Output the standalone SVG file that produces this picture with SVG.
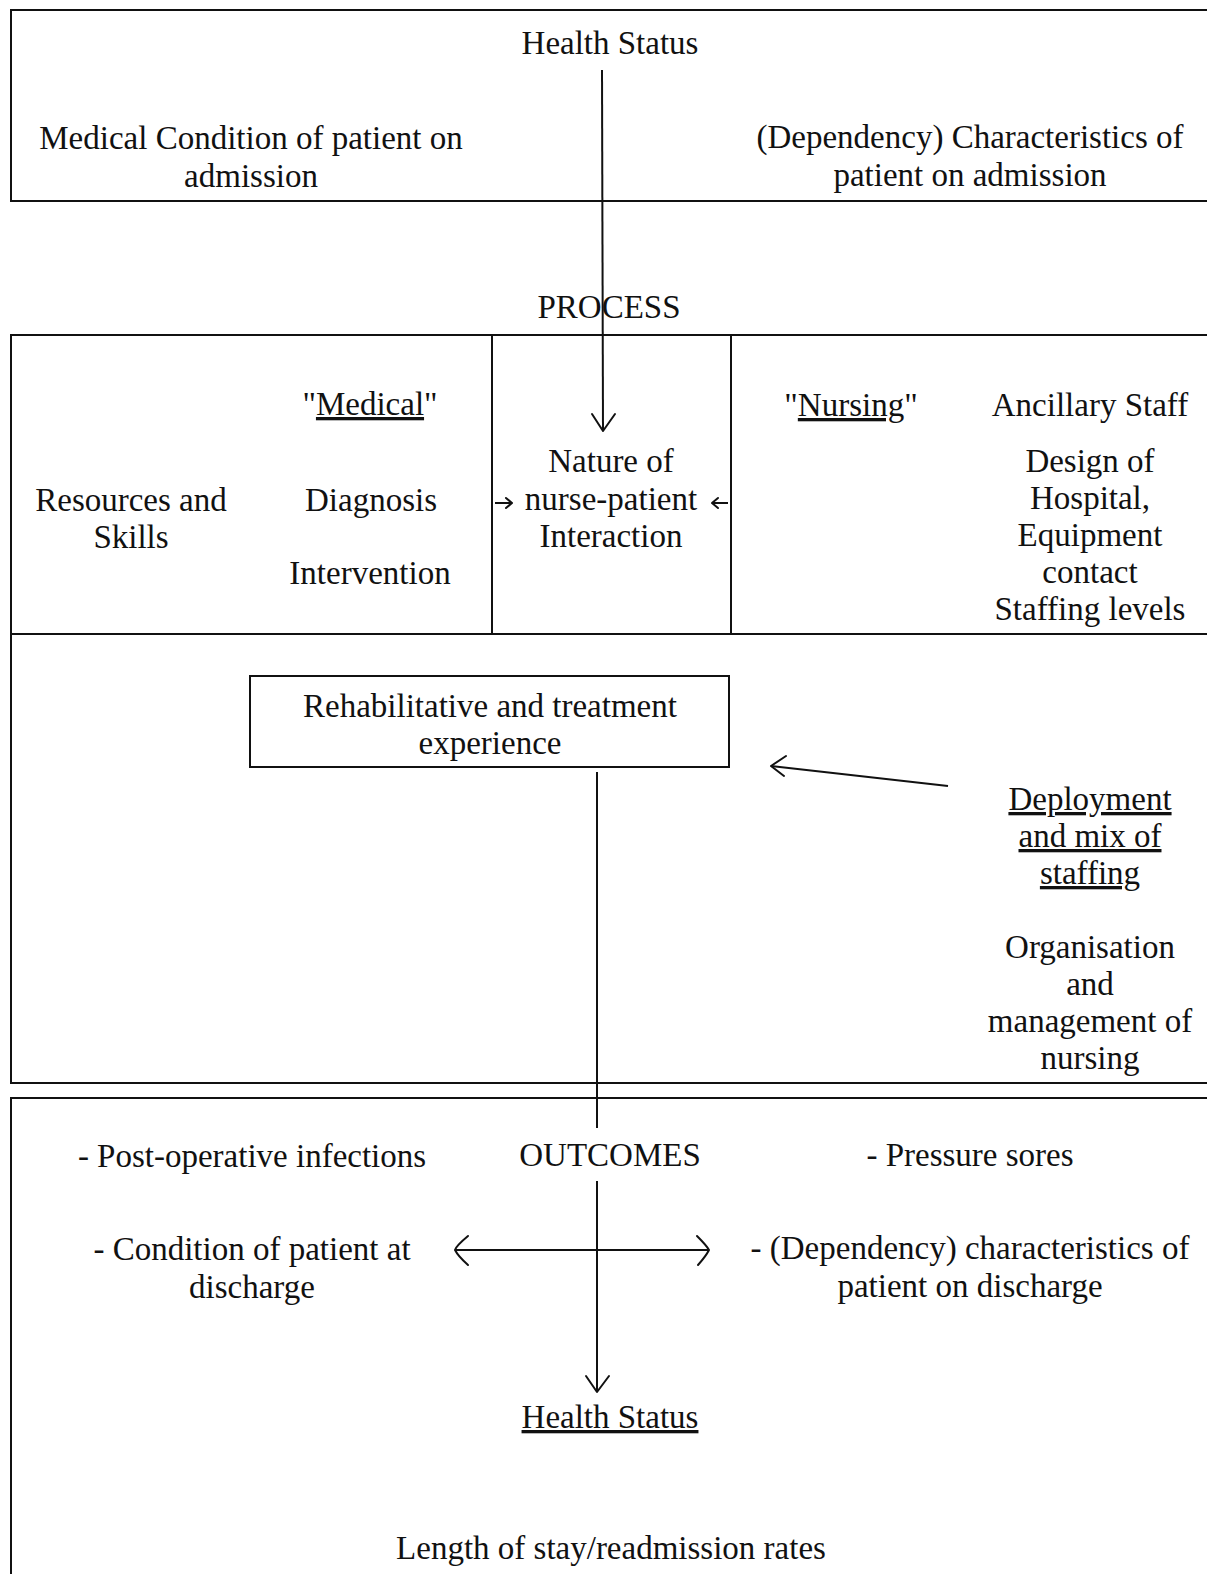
<svg xmlns="http://www.w3.org/2000/svg" width="1207" height="1574" viewBox="0 0 1207 1574">
<style>
text{font-family:"Liberation Serif","Times New Roman",serif;font-size:33px;fill:#111;text-anchor:middle}
.u{text-decoration:underline}
.box{fill:none;stroke:#111;stroke-width:2}
.ln{fill:none;stroke:#111;stroke-width:2}
.hd{fill:none;stroke:#111;stroke-width:2;stroke-linecap:round;stroke-linejoin:round}
</style>
<rect width="1207" height="1574" fill="#fff"/>
<g id="input-box">
<polyline class="box" points="1207,10 11,10 11,201 1207,201"/>
<text x="610" y="54">Health Status</text>
<text x="251" y="149">Medical Condition of patient on</text>
<text x="251" y="187">admission</text>
<text x="970" y="148">(Dependency) Characteristics of</text>
<text x="970" y="186">patient on admission</text>
</g>
<g id="process-label"><text x="609" y="318">PROCESS</text></g>
<g id="process-box">
<polyline class="box" points="1207,335 11,335 11,634 1207,634"/>
<line class="box" x1="492" y1="335" x2="492" y2="634"/>
<line class="box" x1="731" y1="335" x2="731" y2="634"/>
</g>
<g id="medical">
<text x="370" y="415">"<tspan class="u">Medical</tspan>"</text>
<text x="371" y="511">Diagnosis</text>
<text x="370" y="584">Intervention</text>
</g>
<g id="resources">
<text x="131" y="511">Resources and</text>
<text x="131" y="548">Skills</text>
</g>
<g id="interaction">
<text x="611" y="472">Nature of</text>
<text x="611" y="510">nurse-patient</text>
<text x="611" y="547">Interaction</text>
</g>
<g id="nursing"><text x="851" y="416">"<tspan class="u">Nursing</tspan>"</text></g>
<g id="ancillary">
<text x="1090" y="416">Ancillary Staff</text>
<text x="1090" y="472">Design of</text>
<text x="1090" y="509">Hospital,</text>
<text x="1090" y="546">Equipment</text>
<text x="1090" y="583">contact</text>
<text x="1090" y="620">Staffing levels</text>
</g>
<g id="structure-box">
<polyline class="box" points="1207,634 11,634 11,1083 1207,1083"/>
</g>
<g id="rehab">
<rect class="box" x="250" y="676" width="479" height="91"/>
<text x="490" y="717">Rehabilitative and treatment</text>
<text x="490" y="754">experience</text>
</g>
<g id="deployment">
<text x="1090" y="810" class="u">Deployment</text>
<text x="1090" y="847" class="u">and mix of</text>
<text x="1090" y="884" class="u">staffing</text>
<text x="1090" y="958">Organisation</text>
<text x="1090" y="995">and</text>
<text x="1090" y="1032">management of</text>
<text x="1090" y="1069">nursing</text>
</g>
<g id="outcomes-box">
<polyline class="box" points="1207,1098 11,1098 11,1574"/>
<text x="610" y="1166">OUTCOMES</text>
<text x="252" y="1167">- Post-operative infections</text>
<text x="970" y="1166">- Pressure sores</text>
<text x="252" y="1260">- Condition of patient at</text>
<text x="252" y="1298">discharge</text>
<text x="970" y="1259">- (Dependency) characteristics of</text>
<text x="970" y="1297">patient on discharge</text>
</g>
<g id="health-status-out"><text x="610" y="1428" class="u">Health Status</text></g>
<g id="length-of-stay"><text x="611" y="1559">Length of stay/readmission rates</text></g>
<g id="connectors">
<line class="ln" x1="602" y1="70" x2="603" y2="431"/>
<polyline class="hd" points="592,414 603,431 615,414"/>
<line class="ln" x1="495" y1="503" x2="511" y2="503"/>
<polyline class="hd" points="506,498 512,503 506,508"/>
<line class="ln" x1="712" y1="503" x2="728" y2="503"/>
<polyline class="hd" points="718,498 712,503 718,508"/>
<line class="ln" x1="948" y1="786" x2="771" y2="766"/>
<polyline class="hd" points="786,756 771,766 784,776"/>
<line class="ln" x1="597" y1="772" x2="597" y2="1128"/>
<line class="ln" x1="597" y1="1181" x2="597" y2="1392"/>
<polyline class="hd" points="586,1376 597,1392 609,1376"/>
<line class="ln" x1="455" y1="1250" x2="708" y2="1250"/>
<path class="hd" d="M468,1236 Q456,1246 455,1250 Q458,1256 468,1265"/>
<path class="hd" d="M697,1236 Q707,1246 709,1250 Q706,1256 698,1265"/>
</g>
</svg>
